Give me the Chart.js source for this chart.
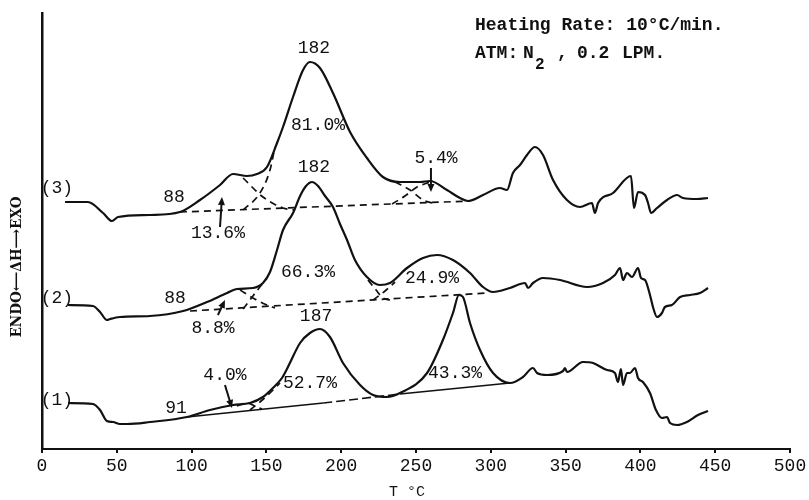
<!DOCTYPE html>
<html>
<head>
<meta charset="utf-8">
<script src="https://cdn.jsdelivr.net/npm/chart.js@4.4.1/dist/chart.umd.min.js"></script>
<style>
  html,body{margin:0;padding:0;background:#fff;}
  #wrap{width:809px;height:500px;}
</style>
</head>
<body>
<div id="wrap"><canvas id="c" width="809" height="500"></canvas></div>
<script>
// ---- Data (x in °C, y in arbitrary ΔH units) ----
const xTicks = [0, 50, 100, 150, 200, 250, 300, 350, 400, 450, 500];

// Curve (3)
const temp3 = [15.4,30.7,40.8,46.8,50.8,72.2,92.2,105.6,119,127.7,137,143.7,150.4,157.1,161.1,167.8,174.5,179.1,185.8,194.5,205.9,217.2,227.9,239.3,252.7,259.3,270.7,279.4,284.7,294.8,306.1,310.8,314.8,319.5,324.2,329.5,334.9,341.6,350.9,359.6,367.6,369.6,371.7,381.7,393.7,395.7,398.4,403.1,405.1,407.1,411.1,417.8,424.5,428.5,437.8,445.2];
const dta3  = [247,247,236,228,232,234,237,249,264,275,273,275,282,306,322,352,379,387,381,356,317,291,272,267,267,268,259,251,248,254,261,259,276,284,294,302,294,269,249,242,246,236,246,256,273,241,257,254,246,236,241,249,254,251,250,251];

// Curve (2)
const temp2 = [17.4,34.1,38.8,43.4,45.5,52.1,72.2,94.3,110.3,123.7,130.3,141,147.7,152.4,157.1,161.1,167.8,172.5,176.5,180.5,184.5,189.2,194.5,199.2,203.9,209.2,217.2,225.9,232.6,244,254.7,264,274.7,286.1,294.8,301.5,312.8,322.9,324.9,328.2,334.9,346.3,364.3,375,383,386.4,388.4,391,394.4,398.4,400.4,403.1,406.4,408.4,411.1,414.4,416.4,421.1,426.5,433.2,439.8,445.2];
const dta2  = [144,143,137,129,130,132,133,138,147,156,160,161,166,177,199,219,236,253,263,267,263,253,242,225,209,189,172,164,166,181,191,194,189,176,162,157,161,166,161,166,171,169,162,166,174,181,169,176,172,181,171,169,154,142,132,136,142,144,152,154,156,161];

// Curve (1)
const temp1 = [17.4,34.1,38.8,43.4,47.5,52.1,56.8,72.2,96.9,112.3,127.7,139,147.7,154.4,160.4,164.4,172.5,179.1,185.8,192.5,201.2,212.6,221.3,230.6,239.3,257.4,268,274.7,278.7,281.4,286.1,292.8,301.5,312.8,321.5,328.2,330.9,337.6,348.3,349.6,350.9,361.6,368.3,377.7,383,385,387,388.4,391,393,396.4,398.4,401.7,406.4,410.4,414.4,417.8,419.8,424.5,431.1,438.5,445.2];
const dta1  = [46,45,39,28,27,25,25,27,32,39,44,46,52,61,71,82,106,116,120,112,86,64,54,52,56,76,109,136,154,152,126,99,76,66,72,81,76,74,78,81,77,87,86,79,76,67,80,64,76,76,81,71,67,56,39,31,32,26,24,27,34,38];

// Baselines
const base3T = [92.2, 286.1];        const base3V = [237, 248];
const base2T = [98.9, 297.5];        const base2V = [138, 156];
const base1T = [96.9, 188, 239.3, 312.8]; const base1V = [32, 46, 55, 66];

// Deconvolution (dashed) peak flanks
const d3aT = [134.4,147.7,161.1,169.1]; const d3aV = [271,252,241,239];
const d3bT = [134.4,145.7,152.4,155.7]; const d3bV = [239,256,279,302];
const d3cT = [236,246,254.7,260.7];     const d3cV = [267,259,249,246];
const d3dT = [234,242.6,250.7,259.4];   const d3dV = [245,253,262,267];
const d2aT = [132.4,141,150.4,155.7];   const d2aV = [159,151,144,141];
const d2bT = [134.4,141,147.7];         const d2bV = [140,153,166];
const d2cT = [217.9,223.3,227.9,232.6]; const d2cV = [169,159,151,149];
const d2dT = [221.3,229.3,236];         const d2dV = [149,158,167];
const d1aT = [130.3,137,143.7,147];     const d1aV = [43,46,42,40];
const d1bT = [139,145.7,152.4,159.1];   const d1bV = [39,47,56,66];

// Annotation texts and their anchor (data coords)
const noteText = ['182','81.0%','88','13.6%','5.4%','(3)','182','66.3%','88','8.8%','24.9%','(2)','187','52.7%','91','4.0%','43.3%','(1)'];
const noteT    = [181.8,184.5,88.2,117.6,263.4,10,181.8,177.8,88.9,114.3,260.7,10,183.2,179.1,89.6,122.3,276.1,10];
const noteV    = [401,324,252,216,291,261,282,177,151,121,171,151,133,66,41,74,76,49];

// Arrows [fromT, fromV, toT, toV]
const arrowsFromT = [119, 117.6, 122.3, 260];
const arrowsFromV = [222, 134, 64, 281];
const arrowsToT   = [120.3, 122.3, 127, 260];
const arrowsToV   = [252, 149, 41, 257];

// ---- helpers ----
const pts = (xs, ys) => xs.map((x, i) => ({x, y: ys[i]}));
const solid = (xs, ys) => ({data: pts(xs, ys), borderColor:'#111', borderWidth:2.2, pointRadius:0, fill:false, cubicInterpolationMode:'monotone'});
const dashed = (xs, ys) => ({data: pts(xs, ys), borderColor:'#111', borderWidth:1.7, borderDash:[7,5], pointRadius:0, fill:false, cubicInterpolationMode:'monotone'});

const base1 = {data: pts(base1T, base1V), borderColor:'#111', borderWidth:1.6, pointRadius:0, fill:false,
  segment:{borderDash: c => (c.p0.parsed.x >= 187 && c.p0.parsed.x < 239) ? [9,4] : undefined}};

const FONT = '"Liberation Mono", "DejaVu Sans Mono", monospace';

const annotate = {
  id: 'annotate',
  afterDraw(chart) {
    const {ctx, scales:{x, y}} = chart;
    ctx.save();
    ctx.fillStyle = '#111';
    ctx.strokeStyle = '#111';
    ctx.font = '18px ' + FONT;
    ctx.textAlign = 'center';
    ctx.textBaseline = 'middle';
    noteText.forEach((t, i) => ctx.fillText(t, x.getPixelForValue(noteT[i]), y.getPixelForValue(noteV[i])));

    // arrows
    ctx.lineWidth = 2;
    arrowsFromT.forEach((ft, i) => {
      const x0 = x.getPixelForValue(ft), y0 = y.getPixelForValue(arrowsFromV[i]);
      const x1 = x.getPixelForValue(arrowsToT[i]), y1 = y.getPixelForValue(arrowsToV[i]);
      const a = Math.atan2(y1 - y0, x1 - x0);
      ctx.beginPath(); ctx.moveTo(x0, y0); ctx.lineTo(x1 - 5*Math.cos(a), y1 - 5*Math.sin(a)); ctx.stroke();
      ctx.beginPath();
      ctx.moveTo(x1, y1);
      ctx.lineTo(x1 - 8*Math.cos(a) + 3.5*Math.sin(a), y1 - 8*Math.sin(a) - 3.5*Math.cos(a));
      ctx.lineTo(x1 - 8*Math.cos(a) - 3.5*Math.sin(a), y1 - 8*Math.sin(a) + 3.5*Math.cos(a));
      ctx.closePath(); ctx.fill();
    });

    // header
    ctx.textAlign = 'left';
    ctx.textBaseline = 'alphabetic';
    ctx.font = 'bold 18px ' + FONT;
    ctx.fillText('Heating Rate: 10°C/min.', 475, 30);
    ctx.fillText('ATM:', 475, 58);
    ctx.fillText('N', 523, 58);
    ctx.font = 'bold 16px ' + FONT;
    ctx.fillText('2', 535, 69);
    ctx.font = 'bold 18px ' + FONT;
    ctx.fillText(',', 557, 58);
    ctx.fillText('0.2', 577, 58);
    ctx.fillText('LPM.', 622, 58);

    // x title
    ctx.textAlign = 'center';
    ctx.font = '15px ' + FONT;
    ctx.fillText('T °C', 407, 496);

    // y title
    ctx.translate(17, 267);
    ctx.rotate(-Math.PI/2);
    ctx.font = 'bold 14px "DejaVu Serif", serif';
    ctx.textBaseline = 'middle';
    const s = 'ENDO⟵ΔH⟶EXO';
    const w = ctx.measureText(s).width;
    ctx.scale(141 / w, 1);
    ctx.fillText(s, 0, 0);
    ctx.restore();
  }
};

new Chart(document.getElementById('c'), {
  type: 'line',
  data: {
    datasets: [
      solid(temp3, dta3), solid(temp2, dta2), solid(temp1, dta1),
      dashed(base3T, base3V), dashed(base2T, base2V), base1,
      dashed(d3aT, d3aV), dashed(d3bT, d3bV), dashed(d3cT, d3cV), dashed(d3dT, d3dV),
      dashed(d2aT, d2aV), dashed(d2bT, d2bV), dashed(d2cT, d2cV), dashed(d2dT, d2dV),
      dashed(d1aT, d1aV), dashed(d1bT, d1bV)
    ]
  },
  options: {
    responsive: false,
    animation: false,
    devicePixelRatio: 1,
    layout: {padding: {left: 42, right: 19, top: 13, bottom: 0}},
    plugins: {legend: {display: false}, tooltip: {enabled: false}},
    scales: {
      x: {
        type: 'linear', min: 0, max: 500,
        afterBuildTicks: s => { s.ticks = xTicks.map(v => ({value: v})); },
        afterFit: s => { s.height = 51; },
        ticks: {color: '#111', font: {family: FONT, size: 18}, padding: 2, maxRotation: 0, autoSkip: false},
        grid: {display: true, drawOnChartArea: false, drawTicks: true, tickLength: 4, color: '#111', lineWidth: 2},
        border: {display: true, color: '#111', width: 2}
      },
      y: {
        type: 'linear', min: 0, max: 436,
        afterFit: s => { s.width = 0; },
        ticks: {display: false},
        grid: {display: false, drawTicks: false},
        border: {display: true, color: '#111', width: 2.5}
      }
    }
  },
  plugins: [annotate]
});
</script>
</body>
</html>
